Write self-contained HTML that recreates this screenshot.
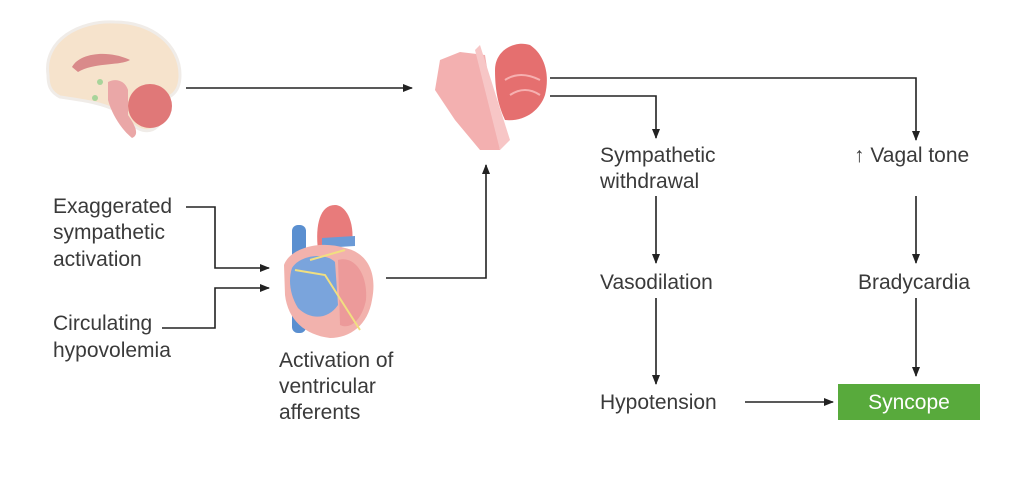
<!DOCTYPE html>
<html><head><meta charset="utf-8"><style>
html,body{margin:0;padding:0;background:#fff;}
svg{display:block}
text{font-family:"Liberation Sans",sans-serif;font-size:21px;fill:#3a3a3a}
</style></head><body>
<svg width="1024" height="485" viewBox="0 0 1024 485" xmlns="http://www.w3.org/2000/svg">
<defs>
<marker id="a" markerWidth="10" markerHeight="10" refX="9" refY="5" orient="auto" markerUnits="userSpaceOnUse">
<path d="M0,1 L10,5 L0,9 Z" fill="#222"/></marker>
</defs>
<!-- brain -->
<g>
<path d="M48,75 C43,40 80,20 115,22 C152,22 180,45 180,75 C180,95 168,100 152,100 L162,120 C152,138 135,132 120,112 C100,102 80,100 60,97 C50,92 48,85 48,75Z" fill="#f6e3cc" stroke="#f0ece8" stroke-width="3"/>
<path d="M72,67 C80,52 110,50 130,60 C120,66 95,62 78,72 Z" fill="#d98a8a"/>
<path d="M108,82 C115,78 125,80 128,90 L128,115 C135,125 140,135 132,138 C122,130 112,115 108,100 Z" fill="#eaa7a7"/>
<circle cx="150" cy="106" r="22" fill="#e07878"/>
<circle cx="100" cy="82" r="3" fill="#a8d49a"/><circle cx="95" cy="98" r="3" fill="#a8d49a"/>
</g>
<!-- brainstem/cerebellum -->
<g>
<path d="M440,60 L460,52 L485,55 L500,150 L480,150 L455,120 L435,90 Z" fill="#f3b0b0"/>
<path d="M475,50 L480,45 L510,140 L500,150 Z" fill="#f7c6c6"/>
<path d="M495,70 C495,50 515,40 530,45 C545,55 550,75 545,95 C540,110 525,122 505,120 C498,105 495,90 495,70 Z" fill="#e56f6f"/>
<path d="M505,80 Q520,70 540,80 M510,95 Q525,85 540,95" stroke="#f6b0b0" stroke-width="2" fill="none"/>
</g>
<!-- heart -->
<g>
<rect x="292" y="225" width="14" height="108" rx="6" fill="#5a8fd0"/>
<path d="M318,250 C315,225 320,205 335,205 C345,205 355,220 352,245 Z" fill="#e87b7b"/>
<path d="M322,238 L355,236 L355,246 L322,248Z" fill="#6b9ad6"/>
<path d="M284,265 C290,248 320,240 345,248 C365,252 378,270 372,300 C368,325 350,338 330,338 C305,335 288,320 285,295 Z" fill="#f2b2ad"/>
<path d="M292,268 C300,255 325,252 335,262 L338,305 C328,320 310,320 298,308 C290,295 288,280 292,268Z" fill="#7aa4dc"/>
<path d="M338,260 C355,255 368,275 366,300 C362,320 350,330 340,325 Z" fill="#ec9a9a"/>
<path d="M295,270 L325,275 L360,330 M310,260 L345,250" stroke="#f1df80" stroke-width="2" fill="none"/>
</g>
<!-- connectors -->
<g stroke="#222" stroke-width="1.6" fill="none">
<line x1="186" y1="88" x2="412" y2="88" marker-end="url(#a)"/>
<polyline points="550,78 916,78 916,140" marker-end="url(#a)"/>
<polyline points="550,96 656,96 656,138" marker-end="url(#a)"/>
<line x1="656" y1="196" x2="656" y2="263" marker-end="url(#a)"/>
<line x1="656" y1="298" x2="656" y2="384" marker-end="url(#a)"/>
<line x1="745" y1="402" x2="833" y2="402" marker-end="url(#a)"/>
<line x1="916" y1="196" x2="916" y2="263" marker-end="url(#a)"/>
<line x1="916" y1="298" x2="916" y2="376" marker-end="url(#a)"/>
<polyline points="186,207 215,207 215,268 269,268" marker-end="url(#a)"/>
<polyline points="162,328 215,328 215,288 269,288" marker-end="url(#a)"/>
<polyline points="386,278 486,278 486,165" marker-end="url(#a)"/>
</g>
<rect x="838" y="384" width="142" height="36" fill="#58aa3c"/>
<text x="909" y="409" text-anchor="middle" style="fill:#fff">Syncope</text>
<text x="53" y="213">Exaggerated</text>
<text x="53" y="239">sympathetic</text>
<text x="53" y="266">activation</text>
<text x="53" y="330">Circulating</text>
<text x="53" y="357">hypovolemia</text>
<text x="279" y="367">Activation of</text>
<text x="279" y="393">ventricular</text>
<text x="279" y="419">afferents</text>
<text x="600" y="162">Sympathetic</text>
<text x="600" y="188">withdrawal</text>
<text x="600" y="289">Vasodilation</text>
<text x="600" y="409">Hypotension</text>
<text x="854" y="162">↑ Vagal tone</text>
<text x="858" y="289">Bradycardia</text>
</svg>
</body></html>
